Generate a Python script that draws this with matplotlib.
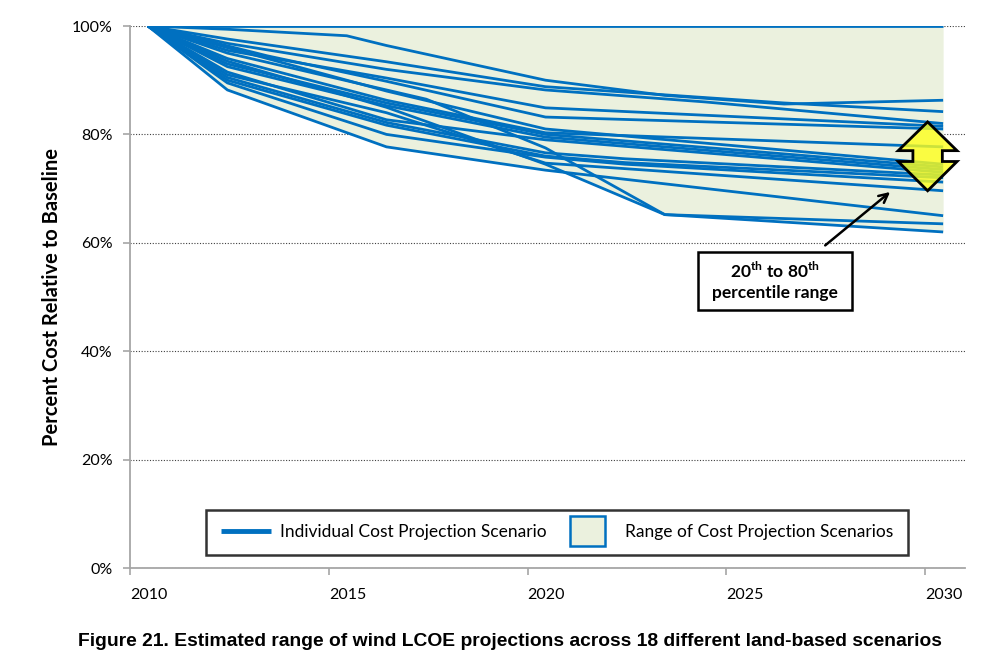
import numpy as np
import matplotlib
matplotlib.use("Agg")
import matplotlib.pyplot as plt
from matplotlib.patches import Polygon, Rectangle
from matplotlib.legend_handler import HandlerPatch
from matplotlib.lines import Line2D

# ---------------- data ----------------
scenario_years = [
    [2010, 2030],
    [2010, 2012, 2015, 2016, 2020, 2023, 2026, 2030],
    [2010, 2012, 2016, 2020, 2026, 2030],
    [2010, 2012, 2016, 2020, 2024, 2030],
    [2010, 2012, 2016, 2020, 2030],
    [2010, 2013, 2016, 2020, 2030],
    [2010, 2012, 2016, 2020, 2030],
    [2010, 2012, 2016, 2020, 2030],
    [2010, 2012, 2016, 2020, 2030],
    [2010, 2012, 2016, 2020, 2030],
    [2010, 2012, 2016, 2020, 2022, 2030],
    [2010, 2012, 2016, 2020, 2022, 2030],
    [2010, 2012, 2016, 2020, 2022, 2030],
    [2010, 2012, 2016, 2020, 2030],
    [2010, 2012, 2016, 2020, 2023, 2030],
    [2010, 2012, 2017, 2020, 2023, 2030],
    [2010, 2012, 2016, 2020, 2030],
    [2010, 2012, 2016, 2020, 2030],
]
scenario_values = [
    [100, 100],
    [100, 99.4, 98.2, 96.4, 90.0, 87.2, 85.6, 86.3],
    [100, 97.6, 93.4, 88.8, 85.8, 84.2],
    [100, 96.8, 92.0, 88.2, 86.0, 82.0],
    [100, 95.5, 90.4, 84.9, 81.5],
    [100, 94.5, 89.8, 83.2, 81.0],
    [100, 94.0, 86.3, 80.3, 77.7],
    [100, 93.0, 85.8, 80.0, 74.0],
    [100, 92.5, 85.3, 79.5, 73.5],
    [100, 91.5, 82.7, 79.0, 73.0],
    [100, 90.5, 82.2, 76.6, 75.5, 72.5],
    [100, 90.0, 81.7, 76.0, 74.8, 72.0],
    [100, 89.5, 80.0, 75.8, 74.5, 71.2],
    [100, 91.0, 84.0, 74.7, 69.6],
    [100, 93.5, 85.0, 74.5, 65.2, 63.5],
    [100, 95.0, 86.5, 77.5, 65.2, 62.0],
    [100, 88.2, 77.7, 73.4, 65.0],
    [100, 96.0, 88.0, 81.0, 74.5],
]
y_ticks = [0, 20, 40, 60, 80, 100]
y_tick_labels = ["0%", "20%", "40%", "60%", "80%", "100%"]
x_ticks = [2010, 2015, 2020, 2025, 2030]
x_tick_labels = ["2010", "2015", "2020", "2025", "2030"]

# ---------------- style ----------------
LINE_COLOR = "#0070C0"
FILL_COLOR = "#EBF1DE"
MID_YEAR = 0.45  # data points sit mid-year on the date axis

plt.rcParams["font.family"] = ["Lato", "DejaVu Sans"]
plt.rcParams["mathtext.fontset"] = "custom"
plt.rcParams["mathtext.rm"] = "Lato"
plt.rcParams["mathtext.bf"] = "Lato:bold"

fig = plt.figure(figsize=(10.01, 6.64), dpi=100)
ax = fig.add_axes([130 / 1001, 1 - 568 / 664, 835 / 1001, 542 / 664])

# range envelope
grid = np.linspace(2010, 2030, 801)
curves = np.array([np.interp(grid, yrs, vals) for yrs, vals in zip(scenario_years, scenario_values)])
lower = curves.min(axis=0)
upper = curves.max(axis=0)
ax.fill_between(grid + MID_YEAR, lower, upper, color=FILL_COLOR, lw=0, zorder=1)

for yrs, vals in zip(scenario_years, scenario_values):
    ax.plot(np.array(yrs) + MID_YEAR, vals, color=LINE_COLOR, lw=2.0, zorder=3,
            solid_joinstyle="miter", solid_capstyle="butt")

ax.set_xlim(2010, 2031)
ax.set_ylim(0, 100)
ax.set_yticks(y_ticks)
ax.set_yticklabels(y_tick_labels)
ax.set_xticks(x_ticks)
ax.set_xticklabels(x_tick_labels, ha="left")
for s in ["top", "right"]:
    ax.spines[s].set_visible(False)
for s in ["left", "bottom"]:
    ax.spines[s].set_color("#A6A6A6")
    ax.spines[s].set_linewidth(1.3)
ax.tick_params(axis="both", colors="#A6A6A6", length=5, width=1.2, labelsize=11.5,
               labelcolor="black")
ax.tick_params(axis="x", pad=9.5)
ax.tick_params(axis="y", pad=7.4)
ax.yaxis.grid(True, color="#404040", lw=0.8, linestyle=(0, (1, 1.5)), zorder=0)
ax.set_axisbelow(True)

fig.text(52 / 1001, 1 - 297 / 664, "Percent Cost Relative to Baseline", rotation=90,
         ha="center", va="center", fontsize=14.5, fontweight="bold")

# yellow double arrow
xc = 2030.06
arrow_pts = [(xc, 82.3), (xc + 0.74, 77.0), (xc + 0.37, 77.0), (xc + 0.37, 75.0),
             (xc + 0.74, 75.0), (xc, 69.6), (xc - 0.74, 75.0), (xc - 0.37, 75.0),
             (xc - 0.37, 77.0), (xc - 0.74, 77.0)]
ax.add_patch(Polygon(arrow_pts, closed=True, facecolor=(1, 1, 0.1, 0.8),
                     edgecolor="black", lw=2, joinstyle="miter", zorder=5))

# annotation box
ax.add_patch(Rectangle((568 / 835, 258 / 542), 154 / 835, 58 / 542, transform=ax.transAxes,
                       facecolor="white", edgecolor="black", lw=1.8, zorder=6))
ax.text(645 / 835, 287 / 542, "20$^{\\mathbf{th}}$ to 80$^{\\mathbf{th}}$\npercentile range",
        transform=ax.transAxes, ha="center", va="center", fontsize=12.5,
        fontweight="bold", linespacing=1.3, zorder=7)
ax.annotate("", xy=(2029.17, 69.7), xytext=(2027.43, 59.2),
            arrowprops=dict(arrowstyle="->", lw=1.8, color="black", mutation_scale=16),
            zorder=6)

# legend
def small_rect(legend, orig_handle, xdescent, ydescent, width, height, fontsize):
    w = 25.2
    h = 21.6
    return Rectangle((-xdescent + 3.6, -ydescent + height / 2 - h / 2), w, h)

line_handle = Line2D([], [], color=LINE_COLOR, lw=3.5, solid_capstyle="butt")
patch_handle = Rectangle((0, 0), 1, 1, facecolor=FILL_COLOR, edgecolor=LINE_COLOR, lw=1.8)
leg = ax.legend([line_handle, patch_handle],
                ["Individual Cost Projection Scenario", "Range of Cost Projection Scenarios"],
                handler_map={Rectangle: HandlerPatch(patch_func=small_rect)},
                loc="center", bbox_to_anchor=(427 / 835, 35.5 / 542), ncol=2,
                fontsize=12.5, handlelength=2.9, handletextpad=0.55, columnspacing=1.05,
                frameon=True, fancybox=False, edgecolor="black", borderpad=0.85,
                borderaxespad=0)
leg.get_frame().set_linewidth(1.8)
leg.set_zorder(8)

fig.text(510 / 1001, 1 - 641 / 664,
         "Figure 21. Estimated range of wind LCOE projections across 18 different land-based scenarios",
         ha="center", va="center", fontsize=13.9, fontweight="bold",
         family=["Liberation Sans", "DejaVu Sans"])

fig.savefig("out.png", dpi=100)
